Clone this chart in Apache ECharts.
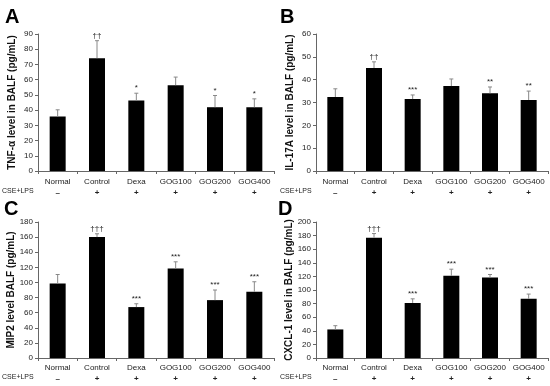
<!DOCTYPE html>
<html><head><meta charset="utf-8">
<script src="https://cdn.jsdelivr.net/npm/echarts@6/dist/echarts.min.js"></script>
<style>html,body{margin:0;padding:0;background:#fff}#c{width:550px;height:386px}</style>
</head><body><div id="c"></div>
<script>
const categories = ['Normal','Control','Dexa','GOG100','GOG200','GOG400'];
const cseLps = ['\u2013','+','+','+','+','+'];

const tnfMean = [35.8, 74.1, 46.3, 56.4, 41.9, 41.9];
const tnfErr  = [40.2, 85.6, 51.1, 61.7, 49.6, 47.4];
const tnfSig  = ['', '\u2020\u2020', '*', '', '*', '*'];

const il17Mean = [32.4, 45.1, 31.5, 37.2, 34.0, 31.1];
const il17Err  = [36.0, 47.8, 33.3, 40.3, 36.8, 35.0];
const il17Sig  = ['', '\u2020\u2020', '***', '', '**', '**'];

const mip2Mean = [98.5, 160, 67.4, 118.5, 76.6, 87.7];
const mip2Err  = [110.5, 164.4, 71.8, 127.3, 90, 100.9];
const mip2Sig  = ['', '\u2020\u2020\u2020', '***', '***', '***', '***'];

const cxclMean = [42, 177, 81, 120.8, 118.4, 87];
const cxclErr  = [47.5, 183, 87, 130.6, 122.8, 94];
const cxclSig  = ['', '\u2020\u2020\u2020', '***', '***', '***', '***'];

const panels = [
  {letter:'A', title:'TNF-\u03b1 level in BALF (pg/mL)', max:90, interval:10, mean:tnfMean, err:tnfErr, sig:tnfSig},
  {letter:'B', title:'IL-17A level in BALF (pg/mL)', max:60, interval:10, mean:il17Mean, err:il17Err, sig:il17Sig},
  {letter:'C', title:'MIP2 level BALF (pg/mL)', max:180, interval:20, mean:mip2Mean, err:mip2Err, sig:mip2Sig},
  {letter:'D', title:'CXCL-1 level in BALF (pg/mL)', max:200, interval:20, mean:cxclMean, err:cxclErr, sig:cxclSig}
];

const FONT = 'Liberation Sans, Arial, sans-serif';
const grids = [
  {left:38, top:34, width:236, height:137},
  {left:316, top:34, width:232, height:137},
  {left:38, top:222, width:236, height:136},
  {left:316, top:222, width:232, height:136}
];
const labelMargins = [5, 5, 4, 4];

const xAxis = [], yAxis = [], series = [];
panels.forEach((p, k) => {
  xAxis.push({
    type:'category', gridIndex:k, data:categories,
    axisLine:{lineStyle:{color:'#666', width:1}},
    axisTick:{show:true, length:3, lineStyle:{color:'#666'}},
    axisLabel:{
      margin:labelMargins[k], interval:0,
      formatter:(v, i) => '{c|' + v + '}\n{s|' + cseLps[i] + '}',
      rich:{
        c:{fontSize:8, lineHeight:11, color:'#222', fontFamily:FONT},
        s:{fontSize:8, lineHeight:11, color:'#222', fontFamily:FONT, fontWeight:'bold'}
      }
    }
  });
  yAxis.push({
    type:'value', gridIndex:k, min:0, max:p.max, interval:p.interval,
    name:p.title, nameLocation:'middle', nameGap:21,
    nameTextStyle:{fontSize:10, fontWeight:'bold', color:'#111', fontFamily:FONT},
    axisLine:{show:true, lineStyle:{color:'#666', width:1}},
    axisTick:{show:true, length:3, lineStyle:{color:'#666'}},
    splitLine:{show:false},
    axisLabel:{fontSize:8, color:'#222', margin:5, fontFamily:FONT}
  });
  series.push({
    type:'bar', xAxisIndex:k, yAxisIndex:k, data:p.mean,
    barWidth:16, itemStyle:{color:'#000'}, z:2
  });
  series.push({
    type:'custom', xAxisIndex:k, yAxisIndex:k, z:3,
    data:p.mean.map((m, i) => [i, m, p.err[i]]),
    renderItem:(params, api) => {
      const i = api.value(0);
      const base = api.coord([i, api.value(1)]);
      const top = api.coord([i, api.value(2)]);
      const sig = p.sig[i];
      const children = [
        {type:'line', shape:{x1:base[0], y1:base[1], x2:top[0], y2:top[1]}, style:{stroke:'#888', lineWidth:1}},
        {type:'line', shape:{x1:top[0]-2, y1:top[1], x2:top[0]+2, y2:top[1]}, style:{stroke:'#888', lineWidth:1}}
      ];
      if (sig) children.push({type:'text', style:{text:sig, x:top[0], y:top[1]-1, align:'center', verticalAlign:'bottom', fontSize:8, fontFamily:FONT, fill:'#222'}});
      return {type:'group', children};
    }
  });
});

const letters = [
  {t:'A', x:5, y:7}, {t:'B', x:280, y:7}, {t:'C', x:4, y:199}, {t:'D', x:278, y:199}
];
const graphic = letters.map(l => ({type:'text', left:l.x, top:l.y, style:{text:l.t, fontSize:20, fontWeight:'bold', fontFamily:FONT, fill:'#000'}}));
[[2,188],[280,188],[2,374],[280,374]].forEach(([x,y]) => graphic.push({type:'text', left:x, top:y, style:{text:'CSE+LPS', fontSize:7, fontFamily:FONT, fill:'#222'}}));

const chart = echarts.init(document.getElementById('c'), null, {renderer:'canvas'});
chart.setOption({animation:false, grid:grids, xAxis, yAxis, series, graphic});
</script></body></html>
